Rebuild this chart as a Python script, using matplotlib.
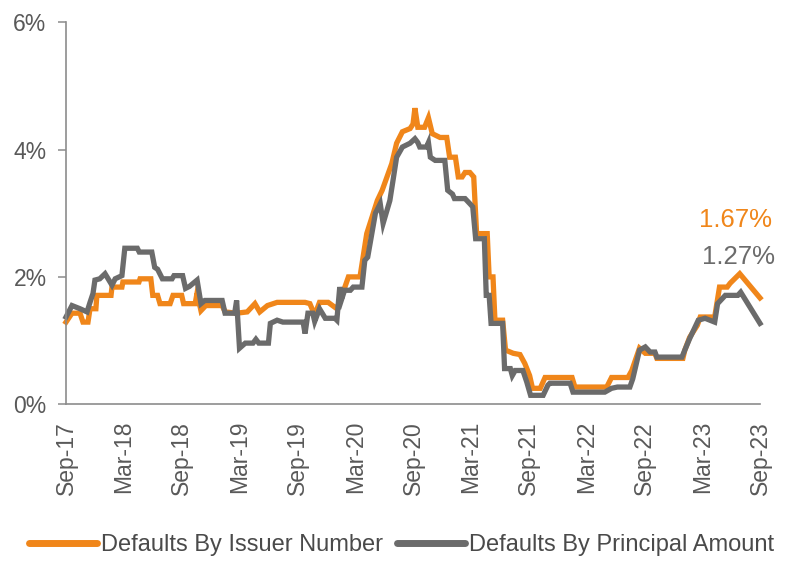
import matplotlib
matplotlib.use("Agg")
import matplotlib.pyplot as plt

plt.rcParams['font.family'] = ['Liberation Sans', 'DejaVu Sans']

# x positions: months since Sep-2017
tick_labels = ["Sep-17", "Mar-18", "Sep-18", "Mar-19", "Sep-19", "Mar-20", "Sep-20",
               "Mar-21", "Sep-21", "Mar-22", "Sep-22", "Mar-23", "Sep-23"]
tick_months = [0, 6, 12, 18, 24, 30, 36, 42, 48, 54, 60, 66, 72]

issuer_m = [0, 0.62, 1.45, 1.76, 2.28, 2.49, 3.1, 3.2, 4.67, 4.77, 5.8, 5.9, 7.57, 7.68,
            8.8, 9.0, 9.5, 9.75, 10.8, 11.1, 12.0, 12.2, 13.4, 13.6, 14.0, 14.5, 16.2,
            16.5, 17.7, 18.8, 19.6, 20.1, 20.9, 21.9, 24.8, 25.3, 25.8, 26.3, 27.2, 28.1,
            28.7, 29.3, 30.5, 31.2, 32.3, 32.8, 33.3, 33.8, 34.3, 34.9, 35.7, 36.0, 36.2,
            36.5, 37.2, 37.6, 38.0, 38.8, 39.5, 39.8, 40.4, 40.7, 41.1, 41.4, 41.9, 42.3,
            42.6, 43.7, 43.9, 44.3, 44.5, 45.3, 45.6, 46.4, 47.1, 47.6, 48.1, 48.4, 49.2,
            49.7, 52.5, 52.8, 56.1, 56.6, 58.3, 58.7, 59.5, 60.1, 61.1, 61.3, 64.0, 64.2,
            64.7, 65.5, 65.8, 67.3, 67.8, 68.6, 68.9, 69.9, 72.0]
issuer_v = [1.29, 1.43, 1.43, 1.29, 1.29, 1.50, 1.50, 1.71, 1.71, 1.84, 1.84, 1.92, 1.92, 1.97,
            1.97, 1.71, 1.71, 1.58, 1.58, 1.71, 1.71, 1.58, 1.58, 1.75, 1.47, 1.55, 1.55,
            1.45, 1.43, 1.45, 1.58, 1.45, 1.55, 1.60, 1.60, 1.58, 1.40, 1.60, 1.60, 1.50,
            1.74, 2.00, 2.00, 2.68, 3.20, 3.36, 3.57, 3.78, 4.10, 4.28, 4.33, 4.40, 4.65,
            4.35, 4.35, 4.50, 4.25, 4.19, 4.19, 3.88, 3.88, 3.57, 3.57, 3.64, 3.64, 3.57,
            2.68, 2.68, 2.00, 2.00, 1.32, 1.32, 0.85, 0.80, 0.78, 0.64, 0.45, 0.25, 0.25,
            0.42, 0.42, 0.27, 0.27, 0.42, 0.42, 0.53, 0.88, 0.80, 0.80, 0.72, 0.72, 0.85,
            1.05, 1.24, 1.37, 1.37, 1.84, 1.84, 1.90, 2.05, 1.67]

principal_m = [0, 0.62, 1.45, 2.18, 2.49, 2.8, 3.0, 3.5, 4.05, 4.77, 5.1, 5.8, 6.1, 7.4, 7.6,
               8.9, 9.2, 9.5, 10.0, 11.0, 11.2, 12.1, 12.4, 12.8, 13.6, 14.0, 14.4, 16.2,
               16.5, 17.5, 17.7, 18.0, 18.6, 19.4, 19.7, 20.0, 21.0, 21.2, 21.9, 22.5, 24.6,
               24.8, 25.1, 25.6, 25.8, 26.3, 26.9, 27.9, 28.1, 28.4, 28.6, 28.9, 29.5, 29.8,
               30.7, 31.0, 31.3, 32.1, 32.6, 32.9, 33.6, 33.9, 34.3, 34.9, 35.7, 36.2, 36.5,
               36.7, 37.4, 37.6, 37.8, 38.3, 39.3, 39.6, 40.1, 40.3, 41.4, 41.9, 42.2, 42.5,
               43.4, 43.6, 43.9, 44.1, 45.3, 45.5, 46.1, 46.3, 46.6, 47.4, 47.8, 48.2, 49.5,
               50.0, 50.2, 52.3, 52.6, 55.9, 56.6, 57.2, 58.5, 58.8, 59.5, 60.1, 60.6, 61.1,
               61.3, 63.9, 64.2, 64.7, 65.6, 66.3, 67.3, 67.6, 68.4, 69.7, 70.0, 72.0]
principal_v = [1.37, 1.55, 1.50, 1.45, 1.60, 1.74, 1.95, 1.97, 2.05, 1.87, 1.97, 2.02, 2.45, 2.45, 2.39,
               2.39, 2.15, 2.12, 1.97, 1.97, 2.02, 2.02, 1.82, 1.85, 1.95, 1.58, 1.63, 1.63,
               1.43, 1.43, 1.63, 0.88, 0.96, 0.96, 1.02, 0.96, 0.96, 1.27, 1.32, 1.29, 1.29,
               1.11, 1.43, 1.43, 1.30, 1.50, 1.35, 1.35, 1.32, 1.84, 1.65, 1.79, 1.79, 1.84,
               1.84, 2.26, 2.31, 3.00, 3.15, 2.84, 3.20, 3.49, 3.88, 4.04, 4.10, 4.17, 4.11,
               4.04, 4.04, 4.11, 3.88, 3.83, 3.83, 3.36, 3.30, 3.23, 3.23, 3.15, 3.10, 2.60,
               2.60, 1.71, 1.71, 1.27, 1.27, 0.56, 0.56, 0.45, 0.53, 0.53, 0.35, 0.14, 0.14,
               0.30, 0.33, 0.33, 0.19, 0.19, 0.25, 0.27, 0.27, 0.40, 0.85, 0.90, 0.82, 0.82,
               0.74, 0.74, 0.85, 1.03, 1.32, 1.35, 1.29, 1.58, 1.71, 1.71, 1.76, 1.27]

y_ticks = [0, 2, 4, 6]
y_tick_labels = ["0%", "2%", "4%", "6%"]

ORANGE = "#F0861A"
GREY = "#6B6B6B"
AXIS = "#8C8C8C"
TEXT = "#595959"

fig = plt.figure(figsize=(8.11, 5.85), dpi=100)
ax = fig.add_axes([0.0814, 0.309, 0.8557, 0.653])

ax.plot(issuer_m, issuer_v, color=ORANGE, lw=3.8, solid_joinstyle='miter',
        label="Defaults By Issuer Number", clip_on=False)
ax.plot(principal_m, principal_v, color=GREY, lw=3.8, solid_joinstyle='miter',
        label="Defaults By Principal Amount", clip_on=False)

ax.set_xlim(0, 72)
ax.set_ylim(0, 6)
ax.set_xticks(tick_months)
ax.set_xticklabels(tick_labels, rotation=90, fontsize=16.5, color=TEXT)
ax.set_yticks(y_ticks)
ax.set_yticklabels(y_tick_labels, fontsize=16.5, color=TEXT)
ax.tick_params(axis='x', length=0, pad=12)
ax.tick_params(axis='y', length=6, width=1.1, color=AXIS, pad=8)

for s in ['top', 'right']:
    ax.spines[s].set_visible(False)
for s in ['left', 'bottom']:
    ax.spines[s].set_color(AXIS)
    ax.spines[s].set_linewidth(1.2)

ax.text(73.2, 2.89, "1.67%", color=ORANGE, fontsize=18.5, ha='right', va='center')
ax.text(73.6, 2.31, "1.27%", color=GREY, fontsize=18.5, ha='right', va='center')

leg = fig.legend(loc='center', bbox_to_anchor=(0.495, 0.068), ncol=2, frameon=False,
                 fontsize=17, handlelength=2.9, handletextpad=0.15, columnspacing=0.6,
                 labelcolor="#4A4A4A")
for line in leg.get_lines():
    line.set_linewidth(5)
    line.set_solid_capstyle('round')

fig.savefig("out.png", dpi=100, facecolor='white')
